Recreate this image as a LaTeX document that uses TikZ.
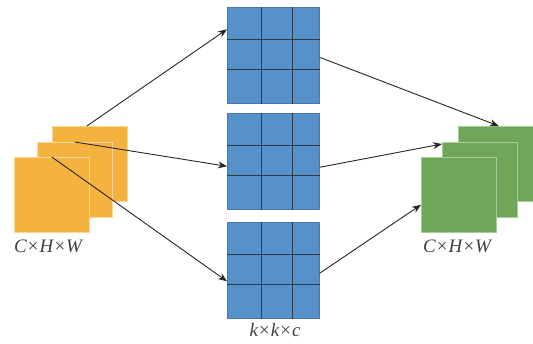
\documentclass[tikz,border=0pt]{standalone}
\usepackage{fontspec}
\setmainfont{Liberation Serif}
\usetikzlibrary{calc,arrows.meta}
\definecolor{orsq}{HTML}{F4B23F}
\definecolor{orln}{HTML}{F9D79A}
\definecolor{blsq}{HTML}{5692C9}
\definecolor{blbd}{HTML}{4A78A8}
\definecolor{grln}{HTML}{2F3A48}
\definecolor{gnsq}{HTML}{6FA659}
\definecolor{gnln}{HTML}{A8CC98}
\begin{document}
\begin{tikzpicture}[x=1pt,y=-1pt,
  orbox/.style={draw=orln,line width=0.6pt,fill=orsq,minimum width=75pt,minimum height=75pt,inner sep=0pt,anchor=north west},
  gnbox/.style={draw=gnln,line width=0.6pt,fill=gnsq,minimum width=75pt,minimum height=75pt,inner sep=0pt,anchor=north west},
  grid/.style={draw=blbd,line width=0.6pt,fill=blsq,minimum width=92pt,minimum height=96pt,inner sep=0pt,anchor=north west},
  gline/.style={draw=grln,line width=0.9pt},
  arr/.style={draw=black!85,line width=0.9pt,-{Stealth[length=9pt,width=7pt]}},
  lab/.style={font=\fontsize{19}{19}\selectfont\itshape,text=black!75,inner sep=0pt}]
\useasboundingbox (0,0) rectangle (533,343);
% orange stack
\node[orbox] (o1) at (52,126) {};
\node[orbox] (o2) at (37,142) {};
\node[orbox] (o3) at (14,157) {};
\node[lab] (lo) at (48,246) {C×H×W};
% grids
\foreach \n/\y in {g1/7,g2/113,g3/222}{
  \node[grid] (\n) at (227,\y) {};
  \draw[gline] ($(\n.north west)!0.37!(\n.north east)$) -- ($(\n.south west)!0.37!(\n.south east)$);
  \draw[gline] ($(\n.north west)!0.707!(\n.north east)$) -- ($(\n.south west)!0.707!(\n.south east)$);
  \draw[gline] ($(\n.north west)!0.333!(\n.south west)$) -- ($(\n.north east)!0.333!(\n.south east)$);
  \draw[gline] ($(\n.north west)!0.646!(\n.south west)$) -- ($(\n.north east)!0.646!(\n.south east)$);
}
\node[lab] (lg) at (275,330) {k×k×c};
% green stack
\node[gnbox] (n1) at (458,126) {};
\node[gnbox] (n2) at (442,142) {};
\node[gnbox] (n3) at (421,157) {};
\node[lab] (ln) at (457,246) {C×H×W};
% arrows
\draw[arr] ([xshift=-3pt]o1.north) -- ([yshift=26pt]g1.west);
\draw[arr] (o2.north) -- ([yshift=-5pt]g2.west);
\draw[arr] (o3.north) -- ([yshift=-11pt]g3.west);
\draw[arr] ([yshift=-2pt]g1.east) -- ([xshift=3pt]n1.north);
\draw[arr] ([yshift=-6pt]g2.east) -- ([yshift=-2pt]n2.north west);
\draw[arr] ([yshift=-3pt]g3.east) -- ([yshift=-10pt]n3.west);
\end{tikzpicture}
\end{document}
